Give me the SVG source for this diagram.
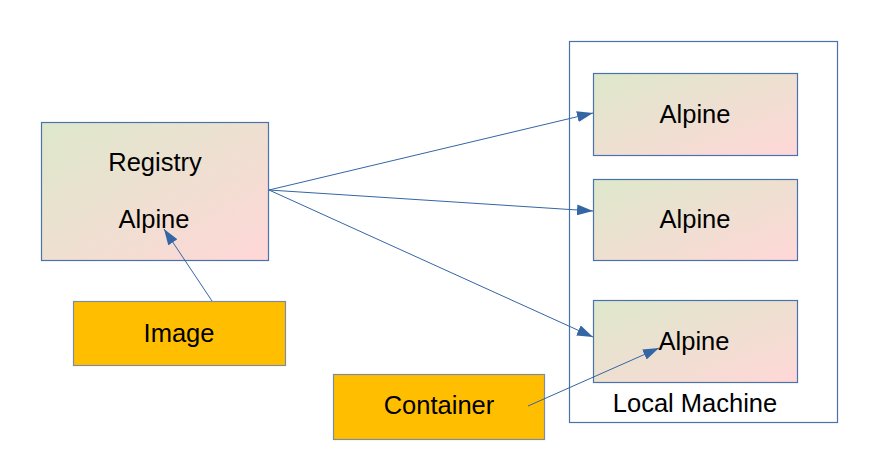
<svg xmlns="http://www.w3.org/2000/svg" width="878" height="470" viewBox="0 0 878 470">
<style>
.g{fill:url(#grad);stroke:#4a73ad;stroke-width:1.2}
.o{fill:#ffbf00;stroke:#7d8ca0;stroke-width:1.2}
.t{font-family:"Liberation Sans",Arial,sans-serif;font-size:25.5px;fill:#000;text-anchor:middle}
.c{stroke:#3465a4;stroke-width:1;fill:none;marker-end:url(#ah)}
</style>
<defs>
<linearGradient id="grad" x1="0" y1="0" x2="1" y2="1">
<stop offset="0" stop-color="#dde8cb"/>
<stop offset="1" stop-color="#ffd7d7"/>
</linearGradient>
<marker id="ah" viewBox="0 0 16 11" refX="16" refY="5.5" markerWidth="16" markerHeight="11" markerUnits="userSpaceOnUse" orient="auto">
<path d="M0,0 L16,5.5 L0,11 Z" fill="#3465a4"/>
</marker>
</defs>
<rect width="878" height="470" fill="#fff"/>
<g id="local-machine">
<rect x="569.5" y="41.5" width="268" height="381" fill="#fff" stroke="#4a73ad" stroke-width="1.2"/>
<text class="t" x="695" y="412">Local Machine</text>
</g>
<g id="registry">
<rect class="g" x="41.5" y="122.5" width="227" height="138"/>
<text class="t" x="155" y="171">Registry</text>
<text class="t" x="154" y="228">Alpine</text>
</g>
<g id="image">
<rect class="o" x="73.5" y="301.5" width="212" height="64"/>
<text class="t" x="179" y="342">Image</text>
</g>
<g id="container">
<rect class="o" x="333.5" y="374.5" width="211" height="65"/>
<text class="t" x="439" y="414">Container</text>
</g>
<g id="alpine1">
<rect class="g" x="593.5" y="73.5" width="204" height="82"/>
<text class="t" x="695" y="123">Alpine</text>
</g>
<g id="alpine2">
<rect class="g" x="593.5" y="179.5" width="204" height="81"/>
<text class="t" x="695" y="228">Alpine</text>
</g>
<g id="alpine3">
<rect class="g" x="593.5" y="300.5" width="204" height="82"/>
<text class="t" x="694" y="350">Alpine</text>
</g>
<g id="connectors">
<line class="c" x1="212" y1="301" x2="164" y2="229"/>
<line class="c" x1="269" y1="190" x2="593" y2="113"/>
<line class="c" x1="269" y1="190" x2="593" y2="211"/>
<line class="c" x1="269" y1="190" x2="593" y2="337"/>
<line class="c" x1="528" y1="406" x2="659" y2="348"/>
</g>
</svg>
